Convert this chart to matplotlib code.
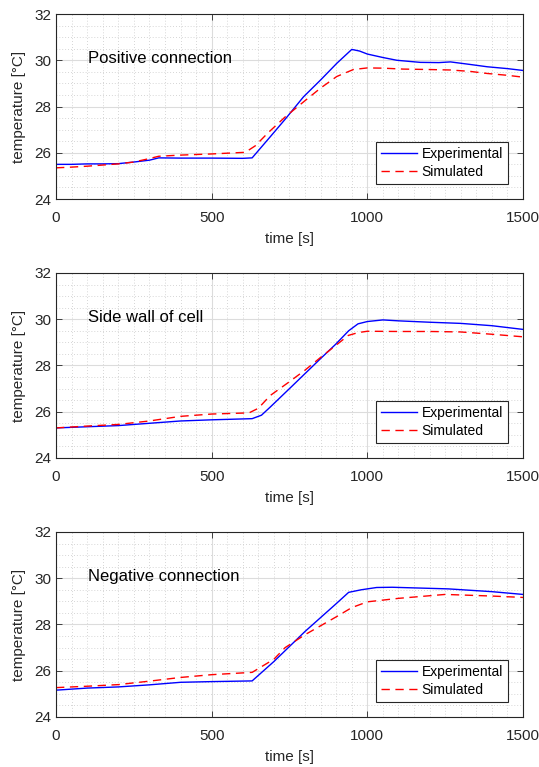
import numpy as np
import matplotlib.pyplot as plt
from matplotlib.ticker import MultipleLocator

plt.rcParams['font.family'] = ['Liberation Sans', 'DejaVu Sans']

# Positive connection
t_pos_exp = [0, 50, 100, 150, 200, 250, 300, 330, 400, 500, 600, 630, 688, 736, 795, 850, 902, 950,
             975, 1000, 1050, 1095, 1170, 1230, 1267, 1330, 1385, 1450, 1500]
T_pos_exp = [25.5, 25.5, 25.52, 25.52, 25.53, 25.6, 25.68, 25.78, 25.77, 25.77, 25.76, 25.78, 26.69, 27.45,
             28.42, 29.15, 29.87, 30.47, 30.4, 30.27, 30.12, 30.0, 29.91, 29.9, 29.93, 29.82, 29.72, 29.64, 29.56]
t_pos_sim = [0, 50, 100, 150, 200, 250, 300, 330, 400, 500, 608, 640, 680, 736, 795, 850, 902, 955,
             1000, 1050, 1114, 1200, 1267, 1330, 1385, 1450, 1500]
T_pos_sim = [25.35, 25.38, 25.42, 25.47, 25.52, 25.6, 25.75, 25.85, 25.9, 25.95, 26.02, 26.3, 26.85, 27.55,
             28.2, 28.8, 29.3, 29.6, 29.67, 29.66, 29.62, 29.6, 29.58, 29.52, 29.43, 29.35, 29.27]

# Side wall of cell
t_side_exp = [0, 100, 200, 300, 400, 500, 630, 660, 688, 750, 800, 850, 897, 940, 970, 1000, 1050,
              1100, 1200, 1300, 1400, 1500]
T_side_exp = [25.3, 25.35, 25.4, 25.5, 25.6, 25.65, 25.7, 25.85, 26.2, 27.0, 27.65, 28.3, 28.9, 29.5,
              29.8, 29.9, 29.97, 29.93, 29.87, 29.82, 29.72, 29.56]
t_side_sim = [0, 100, 200, 300, 400, 500, 620, 650, 688, 750, 800, 850, 897, 939, 970, 1000, 1100,
              1200, 1300, 1400, 1500]
T_side_sim = [25.3, 25.38, 25.45, 25.6, 25.8, 25.9, 25.95, 26.15, 26.7, 27.3, 27.8, 28.35, 28.85, 29.3,
              29.42, 29.48, 29.47, 29.47, 29.45, 29.35, 29.24]

# Negative connection
t_neg_exp = [0, 100, 200, 300, 400, 500, 630, 700, 800, 900, 940, 980, 1030, 1080, 1260, 1400, 1500]
T_neg_exp = [25.16, 25.25, 25.3, 25.39, 25.5, 25.53, 25.56, 26.4, 27.7, 28.9, 29.39, 29.5, 29.6,
             29.61, 29.54, 29.42, 29.3]
t_neg_sim = [0, 100, 200, 300, 400, 500, 630, 700, 736, 800, 900, 950, 1000, 1100, 1250, 1400, 1500]
T_neg_sim = [25.27, 25.33, 25.4, 25.55, 25.71, 25.83, 25.93, 26.5, 27.0, 27.56, 28.33, 28.73, 28.98,
             29.13, 29.3, 29.23, 29.17]

panels = [
    ("Positive connection", t_pos_exp, T_pos_exp, t_pos_sim, T_pos_sim),
    ("Side wall of cell", t_side_exp, T_side_exp, t_side_sim, T_side_sim),
    ("Negative connection", t_neg_exp, T_neg_exp, t_neg_sim, T_neg_sim),
]

fig = plt.figure(figsize=(5.39, 7.67), dpi=100)
bottoms = [0.7405, 0.4029, 0.0652]
dark = '#262626'

for (title, te, Te, ts, Ts), b in zip(panels, bottoms):
    ax = fig.add_axes([0.1039, b, 0.8664, 0.2412])
    ax.plot(te, Te, color='#0000ff', lw=1.0, label='Experimental')
    ax.plot(ts, Ts, color='#ff0000', lw=1.0, ls=(0, (6, 4)), label='Simulated')
    ax.set_xlim(0, 1500)
    ax.set_ylim(24, 32)
    ax.set_xticks([0, 500, 1000, 1500])
    ax.set_yticks([24, 26, 28, 30, 32])
    ax.xaxis.set_minor_locator(MultipleLocator(50))
    ax.yaxis.set_minor_locator(MultipleLocator(0.5))
    ax.grid(which='major', color='#dcdcdc', lw=0.8)
    ax.grid(which='minor', color='#c8c8c8', lw=0.6, ls=(0, (1, 2.5)))
    ax.set_axisbelow(True)
    ax.tick_params(which='major', direction='in', top=True, right=True, length=4,
                   width=0.6, colors=dark, labelsize=11, labelcolor=dark)
    ax.tick_params(axis='x', which='major', pad=8.5)
    ax.tick_params(which='minor', length=0)
    for s in ax.spines.values():
        s.set_color(dark)
        s.set_linewidth(0.8)
    ax.set_xlabel('time [s]', fontsize=11, color=dark, labelpad=5)
    ax.set_ylabel('temperature [°C]', fontsize=11, color=dark, labelpad=6)
    ax.text(0.068, 0.76, title, transform=ax.transAxes, fontsize=12, va='center', ha='left')
    leg = ax.legend(loc='lower right', fontsize=10, fancybox=False, framealpha=1,
                    edgecolor=dark, handlelength=2.6, borderpad=0.35, labelspacing=0.3,
                    handletextpad=0.3, borderaxespad=1.1)
    leg.get_frame().set_linewidth(0.8)

fig.savefig('out.png', dpi=100)
